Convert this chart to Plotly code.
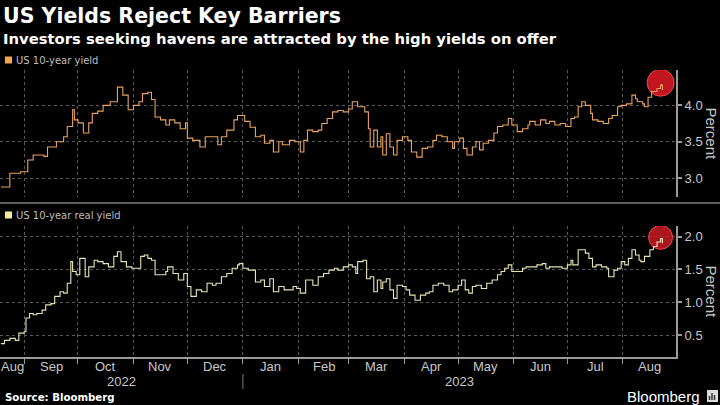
import pandas as pd
import plotly.graph_objects as go

# ---------------- data ----------------
dates_10y = ["2022-08-19","2022-08-24","2022-08-30","2022-09-03","2022-09-06","2022-09-12","2022-09-14","2022-09-19","2022-09-23","2022-09-25",
             "2022-09-28","2022-09-29","2022-10-01","2022-10-04","2022-10-07","2022-10-09","2022-10-12","2022-10-15","2022-10-19","2022-10-23",
             "2022-10-26","2022-10-29","2022-11-01","2022-11-04","2022-11-06","2022-11-09","2022-11-11","2022-11-13","2022-11-16","2022-11-19",
             "2022-11-21","2022-11-24","2022-11-27","2022-11-30","2022-12-01","2022-12-04","2022-12-08","2022-12-11","2022-12-14","2022-12-18",
             "2022-12-20","2022-12-23","2022-12-27","2022-12-29","2023-01-02","2023-01-05","2023-01-08","2023-01-11","2023-01-13","2023-01-16",
             "2023-01-18","2023-01-21","2023-01-23","2023-01-27","2023-01-30","2023-02-02","2023-02-04","2023-02-06","2023-02-09","2023-02-12",
             "2023-02-14","2023-02-17","2023-02-20","2023-02-23","2023-02-26","2023-03-01","2023-03-03","2023-03-06","2023-03-08","2023-03-10",
             "2023-03-12","2023-03-13","2023-03-15","2023-03-17","2023-03-19","2023-03-20","2023-03-22","2023-03-24","2023-03-26","2023-03-28",
             "2023-03-31","2023-04-03","2023-04-05","2023-04-08","2023-04-11","2023-04-14","2023-04-17","2023-04-19","2023-04-22","2023-04-25",
             "2023-04-28","2023-04-29","2023-05-02","2023-05-04","2023-05-06","2023-05-09","2023-05-11","2023-05-13","2023-05-15","2023-05-18",
             "2023-05-21","2023-05-23","2023-05-26","2023-05-29","2023-05-31","2023-06-03","2023-06-06","2023-06-09","2023-06-10","2023-06-13",
             "2023-06-16","2023-06-19","2023-06-21","2023-06-24","2023-06-27","2023-06-30","2023-07-03","2023-07-05","2023-07-07","2023-07-09",
             "2023-07-11","2023-07-14","2023-07-15","2023-07-18","2023-07-21","2023-07-24","2023-07-26","2023-07-29","2023-07-31","2023-08-03",
             "2023-08-06","2023-08-08","2023-08-09","2023-08-12","2023-08-13","2023-08-15","2023-08-17","2023-08-20","2023-08-22","2023-08-23"]
yield_10y = [2.88, 3.07, 3.09, 3.25, 3.32, 3.30, 3.43, 3.50, 3.57, 3.71,
             3.94, 3.80, 3.76, 3.62, 3.76, 3.89, 3.92, 4.00, 4.05, 4.25,
             4.14, 3.94, 4.00, 4.05, 4.16, 4.18, 4.08, 3.84, 3.80, 3.73,
             3.80, 3.76, 3.68, 3.76, 3.55, 3.52, 3.43, 3.57, 3.57, 3.46,
             3.57, 3.66, 3.80, 3.86, 3.78, 3.70, 3.57, 3.59, 3.48, 3.52,
             3.36, 3.50, 3.46, 3.52, 3.50, 3.36, 3.52, 3.66, 3.64, 3.66,
             3.75, 3.82, 3.91, 3.93, 3.91, 3.95, 4.05, 3.98, 3.98, 3.91,
             3.68, 3.43, 3.66, 3.43, 3.57, 3.32, 3.61, 3.43, 3.32, 3.52,
             3.57, 3.52, 3.36, 3.29, 3.41, 3.43, 3.52, 3.59, 3.57, 3.50,
             3.41, 3.50, 3.55, 3.41, 3.32, 3.43, 3.50, 3.39, 3.48, 3.52,
             3.62, 3.71, 3.73, 3.82, 3.73, 3.64, 3.68, 3.73, 3.78, 3.73,
             3.80, 3.75, 3.78, 3.73, 3.75, 3.71, 3.82, 3.84, 3.98, 4.05,
             4.00, 3.89, 3.80, 3.78, 3.75, 3.82, 3.86, 3.98, 4.00, 4.02,
             4.14, 4.09, 4.05, 4.02, 3.98, 4.11, 4.19, 4.23, 4.28, 4.21]

dates_real = ["2022-08-19","2022-08-21","2022-08-24","2022-08-27","2022-08-29","2022-09-01","2022-09-02","2022-09-04","2022-09-06","2022-09-08",
              "2022-09-11","2022-09-13","2022-09-16","2022-09-18","2022-09-21","2022-09-23","2022-09-25","2022-09-27","2022-09-28","2022-09-30",
              "2022-10-02","2022-10-05","2022-10-07","2022-10-10","2022-10-12","2022-10-15","2022-10-18","2022-10-21","2022-10-23","2022-10-25",
              "2022-10-28","2022-10-31","2022-11-03","2022-11-05","2022-11-07","2022-11-09","2022-11-11","2022-11-13","2022-11-16","2022-11-19",
              "2022-11-20","2022-11-23","2022-11-26","2022-11-29","2022-12-01","2022-12-03","2022-12-06","2022-12-09","2022-12-12","2022-12-15",
              "2022-12-17","2022-12-20","2022-12-23","2022-12-26","2022-12-29","2022-12-30","2023-01-01","2023-01-04","2023-01-06","2023-01-08",
              "2023-01-11","2023-01-13","2023-01-16","2023-01-18","2023-01-21","2023-01-24","2023-01-26","2023-01-29","2023-01-31","2023-02-02",
              "2023-02-05","2023-02-08","2023-02-09","2023-02-12","2023-02-15","2023-02-18","2023-02-21","2023-02-23","2023-02-26","2023-03-01",
              "2023-03-03","2023-03-05","2023-03-06","2023-03-09","2023-03-11","2023-03-13","2023-03-15","2023-03-17","2023-03-19","2023-03-20",
              "2023-03-22","2023-03-24","2023-03-26","2023-03-28","2023-03-31","2023-04-02","2023-04-04","2023-04-07","2023-04-10","2023-04-13",
              "2023-04-15","2023-04-17","2023-04-20","2023-04-23","2023-04-26","2023-04-28","2023-05-01","2023-05-03","2023-05-05","2023-05-07",
              "2023-05-09","2023-05-11","2023-05-14","2023-05-17","2023-05-20","2023-05-23","2023-05-25","2023-05-27","2023-05-29","2023-05-31",
              "2023-06-03","2023-06-06","2023-06-08","2023-06-11","2023-06-14","2023-06-17","2023-06-19","2023-06-21","2023-06-25","2023-06-28",
              "2023-07-01","2023-07-03","2023-07-04","2023-07-07","2023-07-09","2023-07-11","2023-07-13","2023-07-15","2023-07-17","2023-07-20",
              "2023-07-23","2023-07-24","2023-07-27","2023-07-29","2023-07-31","2023-08-02","2023-08-04","2023-08-06","2023-08-08","2023-08-10",
              "2023-08-11","2023-08-13","2023-08-16","2023-08-18","2023-08-20","2023-08-22","2023-08-23"]
yield_real = [0.37, 0.42, 0.45, 0.42, 0.53, 0.55, 0.76, 0.83, 0.81, 0.83,
              0.88, 0.96, 0.98, 1.09, 1.16, 1.14, 1.29, 1.62, 1.47, 1.42,
              1.67, 1.39, 1.54, 1.64, 1.62, 1.59, 1.54, 1.70, 1.77, 1.62,
              1.54, 1.52, 1.52, 1.70, 1.72, 1.67, 1.64, 1.42, 1.42, 1.47,
              1.54, 1.44, 1.34, 1.44, 1.24, 1.09, 1.19, 1.16, 1.29, 1.26,
              1.29, 1.39, 1.44, 1.52, 1.57, 1.59, 1.52, 1.49, 1.49, 1.31,
              1.34, 1.24, 1.36, 1.16, 1.24, 1.19, 1.19, 1.24, 1.21, 1.14,
              1.34, 1.34, 1.26, 1.39, 1.44, 1.49, 1.52, 1.49, 1.54, 1.57,
              1.54, 1.44, 1.62, 1.64, 1.36, 1.39, 1.16, 1.34, 1.21, 1.31,
              1.36, 1.19, 1.06, 1.26, 1.24, 1.19, 1.11, 1.03, 1.11, 1.14,
              1.16, 1.26, 1.29, 1.26, 1.16, 1.19, 1.26, 1.34, 1.19, 1.14,
              1.24, 1.26, 1.21, 1.29, 1.34, 1.42, 1.47, 1.52, 1.57, 1.47,
              1.47, 1.52, 1.54, 1.54, 1.57, 1.59, 1.52, 1.54, 1.54, 1.52,
              1.57, 1.64, 1.57, 1.80, 1.80, 1.75, 1.67, 1.54, 1.57, 1.54,
              1.52, 1.39, 1.49, 1.52, 1.62, 1.57, 1.67, 1.80, 1.72, 1.64,
              1.62, 1.70, 1.80, 1.85, 1.92, 1.97, 1.90]

highlight_date = ["2023-08-22"]
highlight_10y = [4.31]
highlight_real = [1.99]

top_ticks = [3.0, 3.5, 4.0]
bottom_ticks = [0.5, 1.0, 1.5, 2.0]
month_labels = ["Aug", "Sep", "Oct", "Nov", "Dec", "Jan", "Feb", "Mar", "Apr", "May", "Jun", "Jul", "Aug"]
year_labels = ["2022", "2023"]

assert len(dates_10y) == len(yield_10y)
assert len(dates_real) == len(yield_real)

# ---------------- styling / layout helpers ----------------
W, H = 720, 405
PL, PR, PT, PB = 0, 676, 70, 357          # plot area in pixels
X_RANGE = ["2022-08-18 12:00", "2023-08-30 14:00"]
TOP_RANGE = [2.744, 4.484]
BOT_RANGE = [0.166, 2.163]
TOP_DOMAIN = [(PB - 197) / (PB - PT), 1.0]
BOT_DOMAIN = [0.0, (PB - 226) / (PB - PT)]

ORANGE = "#e9a35f"
PALE = "#e8e5b4"
GRID = "#5a5a5a"
AXIS = "#9a9a9a"
TEXT = "#c8c8c8"
FONT = "Liberation Sans, Arial, sans-serif"
WIDE = "DejaVu Sans, Verdana, sans-serif"


def px(x):
    return (x - PL) / (PR - PL)


def py(y):
    return (PB - y) / (PB - PT)


fig = go.Figure()

# highlight circles (drawn first, under the lines)
fig.add_trace(go.Scatter(x=highlight_date, y=highlight_10y, mode="markers", xaxis="x", yaxis="y",
                         marker=dict(size=27, color="rgba(220,25,35,0.88)",
                                     line=dict(color="rgba(255,80,80,0.9)", width=1)),
                         hoverinfo="skip", showlegend=False))
fig.add_trace(go.Scatter(x=highlight_date, y=highlight_real, mode="markers", xaxis="x2", yaxis="y2",
                         marker=dict(size=24, color="rgba(200,25,35,0.85)",
                                     line=dict(color="rgba(255,80,80,0.9)", width=1)),
                         hoverinfo="skip", showlegend=False))

fig.add_trace(go.Scatter(x=pd.to_datetime(dates_10y), y=yield_10y, mode="lines", xaxis="x", yaxis="y",
                         line=dict(color=ORANGE, width=1.1, shape="hv"), name="US 10-year yield",
                         showlegend=False))
fig.add_trace(go.Scatter(x=pd.to_datetime(dates_real), y=yield_real, mode="lines", xaxis="x2", yaxis="y2",
                         line=dict(color=PALE, width=1.1, shape="hv"), name="US 10-year real yield",
                         showlegend=False))

month_starts = pd.date_range("2022-09-01", "2023-08-01", freq="MS")

xcommon = dict(range=X_RANGE, type="date", showgrid=True, gridcolor=GRID, griddash="dot", gridwidth=1,
               tickvals=list(month_starts), showticklabels=False, zeroline=False)
ycommon = dict(side="right", showgrid=True, gridcolor=GRID, griddash="dot", gridwidth=1,
               ticks="outside", ticklen=4, tickwidth=1.5, tickcolor=AXIS, showline=True, linecolor=AXIS,
               linewidth=2, tickformat=".1f", tickfont=dict(family=FONT, size=13, color=TEXT),
               zeroline=False, fixedrange=True)

fig.update_layout(
    width=W, height=H,
    paper_bgcolor="black", plot_bgcolor="black",
    margin=dict(l=PL, r=W - PR, t=PT, b=H - PB, pad=0),
    showlegend=False,
    xaxis=dict(xcommon, domain=[0, 1], anchor="y", ticks="", showline=False),
    xaxis2=dict(xcommon, domain=[0, 1], anchor="y2", ticks="outside", ticklen=5, tickcolor=AXIS,
                showline=True, linecolor=AXIS, linewidth=1.5),
    yaxis=dict(ycommon, domain=TOP_DOMAIN, anchor="x", range=TOP_RANGE, tickvals=top_ticks),
    yaxis2=dict(ycommon, domain=BOT_DOMAIN, anchor="x2", range=BOT_RANGE, tickvals=bottom_ticks),
)

annotations = []
shapes = []

# titles
annotations.append(dict(text="<b>US Yields Reject Key Barriers</b>", xref="paper", yref="paper",
                        x=px(1), y=py(16), xanchor="left", yanchor="middle", showarrow=False,
                        font=dict(family=WIDE, size=20.5, color="white")))
annotations.append(dict(text="<b>Investors seeking havens are attracted by the high yields on offer</b>",
                        xref="paper", yref="paper", x=px(1), y=py(38), xanchor="left", yanchor="middle",
                        showarrow=False, font=dict(family=WIDE, size=14.8, color="white")))

# legends
for label, color, ycen in [("US 10-year yield", "#f5a54a", 60), ("US 10-year real yield", "#f3e99a", 215)]:
    shapes.append(dict(type="rect", xref="paper", yref="paper", x0=px(5), x1=px(12),
                       y0=py(ycen + 3.5), y1=py(ycen - 3.5), fillcolor=color, line=dict(width=0)))
    annotations.append(dict(text=label, xref="paper", yref="paper", x=px(14), y=py(ycen),
                            xanchor="left", yanchor="middle", showarrow=False,
                            font=dict(family=WIDE, size=10, color="#bdbdbd")))

# Percent axis titles
for ycen in [(PT + 197) / 2, (226 + PB) / 2]:
    annotations.append(dict(text="Percent", xref="paper", yref="paper", x=px(711), y=py(ycen),
                            xanchor="center", yanchor="middle", textangle=90, showarrow=False,
                            font=dict(family=FONT, size=15, color=TEXT)))

# month labels centred in the visible part of each month
rng0, rng1 = pd.Timestamp(X_RANGE[0]), pd.Timestamp(X_RANGE[1])
all_starts = pd.date_range("2022-08-01", "2023-09-01", freq="MS")
for i, lab in enumerate(month_labels):
    a = max(all_starts[i], rng0)
    b = min(all_starts[i + 1], rng1)
    mid = a + (b - a) / 2
    annotations.append(dict(text=lab, xref="x2", yref="paper", x=mid, y=py(366),
                            xanchor="center", yanchor="middle", showarrow=False,
                            font=dict(family=FONT, size=13, color=TEXT)))

# year labels and divider
year_bounds = [(rng0, pd.Timestamp("2023-01-01")), (pd.Timestamp("2023-01-01"), rng1)]
for lab, (a, b) in zip(year_labels, year_bounds):
    annotations.append(dict(text=lab, xref="x2", yref="paper", x=a + (b - a) / 2, y=py(381),
                            xanchor="center", yanchor="middle", showarrow=False,
                            font=dict(family=FONT, size=13, color=TEXT)))
shapes.append(dict(type="line", xref="x2", yref="paper", x0="2023-01-01", x1="2023-01-01",
                   y0=py(374), y1=py(389), line=dict(color="#777777", width=1)))

# separator between panels
shapes.append(dict(type="line", xref="paper", yref="paper", x0=px(0), x1=px(720), y0=py(203), y1=py(203),
                   line=dict(color="#5e5e5e", width=2)))

# footer
annotations.append(dict(text="<b>Source: Bloomberg</b>", xref="paper", yref="paper", x=px(3), y=py(397),
                        xanchor="left", yanchor="middle", showarrow=False,
                        font=dict(family=WIDE, size=10.2, color="white")))
annotations.append(dict(text="Bloomberg", xref="paper", yref="paper", x=px(702), y=py(396),
                        xanchor="right", yanchor="middle", showarrow=False,
                        font=dict(family=FONT, size=15, color="white")))
shapes.append(dict(type="rect", xref="paper", yref="paper", x0=px(707), x1=px(718), y0=py(402), y1=py(390),
                   fillcolor="#dddddd", line=dict(width=0)))
for bx, top in [(709.5, 396), (712, 393), (714.5, 395)]:
    shapes.append(dict(type="line", xref="paper", yref="paper", x0=px(bx), x1=px(bx), y0=py(400), y1=py(top),
                       line=dict(color="#333333", width=1.5)))

fig.update_layout(annotations=annotations, shapes=shapes)

fig.write_html(
    "out.html",
    config={"displayModeBar": False},
    post_script="document.body.style.margin='0';document.body.style.padding='0';"
                "document.body.style.background='black';document.body.style.overflow='hidden';",
)
